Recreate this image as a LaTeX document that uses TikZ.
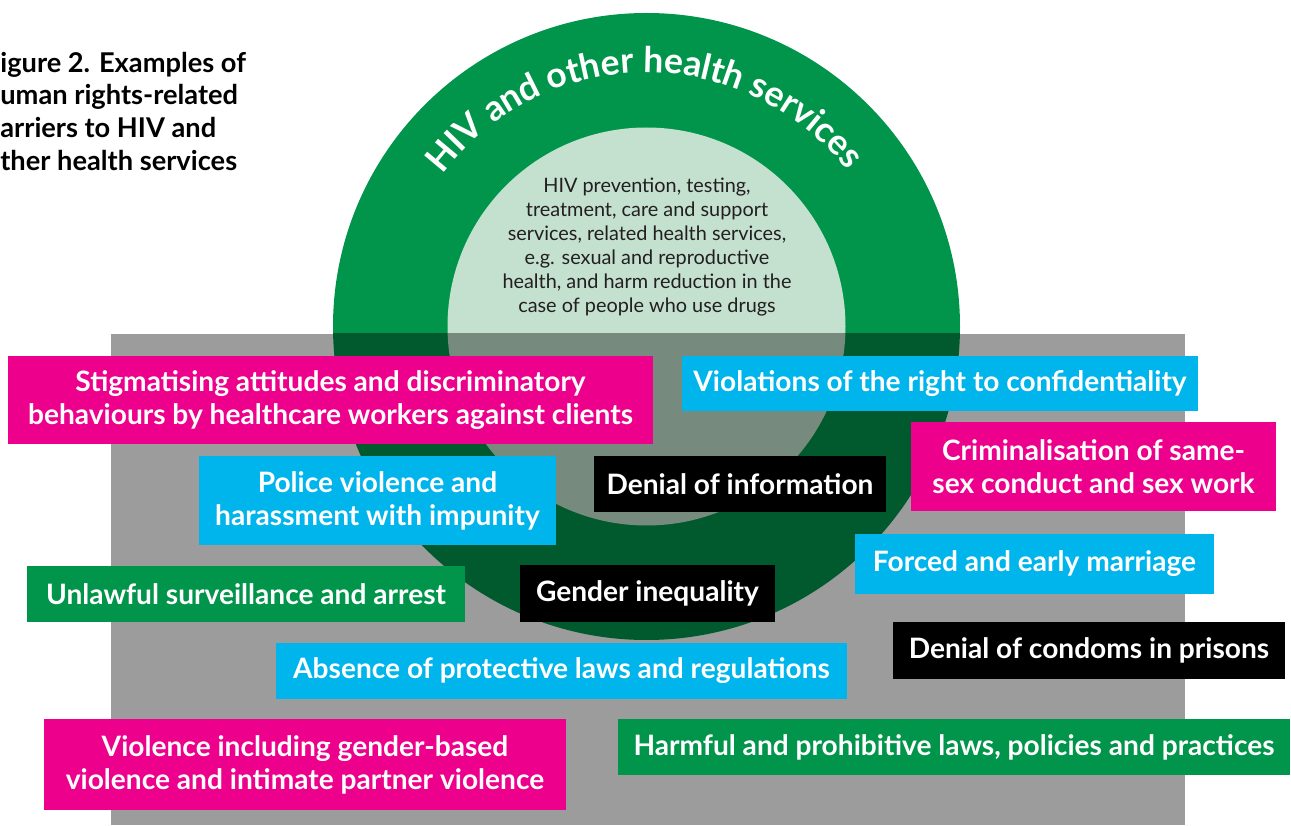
\documentclass[tikz,border=0pt]{standalone}
\usepackage{fontspec}
\setmainfont{Lato}
\usetikzlibrary{decorations.text}

\definecolor{ringgreen}{HTML}{00954A}
\definecolor{coregreen}{HTML}{C4E0CF}
\definecolor{fieldgray}{HTML}{9C9C9C}
\definecolor{ringshade}{HTML}{005A2D}
\definecolor{coreshade}{HTML}{778A7E}
\definecolor{barmagenta}{HTML}{EC008C}
\definecolor{barcyan}{HTML}{00B4EC}
\definecolor{bargreen}{HTML}{00954A}
\definecolor{inktext}{HTML}{231F20}

\newcommand{\arcfont}{\bfseries\fontsize{20.2}{22}\selectfont}

\begin{document}
\begin{tikzpicture}[
	barrier/.style={inner sep=0pt, align=center, text=white, font=\bfseries\fontsize{16}{18.7}\selectfont},
	magentabar/.style={barrier, fill=barmagenta},
	cyanbar/.style={barrier, fill=barcyan},
	greenbar/.style={barrier, fill=bargreen},
	blackbar/.style={barrier, fill=black}
]
	\useasboundingbox (0, 0) rectangle (25.82, 16.5);
	\coordinate (O) at (12.93, 9.97);

	\fill [ringgreen] (O) circle (6.27);
	\fill [coregreen] (O) circle (3.98);
	\path [decorate, decoration={text along path, text align=center, text color=white,
		text={|\arcfont|HIV and other health services}}]
		([shift={(162:5.08)}]O) arc [start angle=162, end angle=19, radius=5.08];
	\node [align=center, text=inktext, inner sep=0pt, font=\fontsize{11.3}{13.6}\selectfont] (core) at (12.94, 11.56)
		{HIV prevention, testing,\\treatment, care and support\\services, related health services,\\e.g. sexual and reproductive\\health, and harm reduction in the\\case of people who use drugs};

	\fill [fieldgray] (2.22, 0) rectangle (23.7, 9.82);
	\begin{scope}
		\clip (2.22, 0) rectangle (23.7, 9.82);
		\fill [ringshade] (O) circle (6.27);
		\fill [coreshade] (O) circle (3.98);
	\end{scope}

	\node [anchor=north west, align=left, inner sep=0pt, font=\bfseries\fontsize{15.5}{18.7}\selectfont] (caption) at (0, 15.47)
		{igure 2. Examples of\\uman rights-related\\arriers to HIV and\\ther health services};

	\node [magentabar, minimum width=12.9cm, minimum height=1.76cm] (stigma) at (6.61, 8.5)
		{Stigmatising attitudes and discriminatory\\behaviours by healthcare workers against clients};
	\node [cyanbar, minimum width=10.32cm, minimum height=1.1cm] (privacy) at (18.8, 8.83)
		{Violations of the right to confidentiality};
	\node [cyanbar, minimum width=7.14cm, minimum height=1.78cm] (police) at (7.55, 6.49)
		{Police violence and\\harassment with impunity};
	\node [blackbar, minimum width=5.84cm, minimum height=1.12cm] (information) at (14.8, 6.82)
		{Denial of information};
	\node [magentabar, minimum width=7.3cm, minimum height=1.78cm] (criminal) at (21.87, 7.17)
		{Criminalisation of same-\\sex conduct and sex work};
	\node [cyanbar, minimum width=7.18cm, minimum height=1.2cm] (marriage) at (20.69, 5.22)
		{Forced and early marriage};
	\node [greenbar, minimum width=8.76cm, minimum height=1.12cm] (surveillance) at (4.92, 4.62)
		{Unlawful surveillance and arrest};
	\node [blackbar, minimum width=5.1cm, minimum height=1.14cm] (gender) at (12.95, 4.63)
		{Gender inequality};
	\node [blackbar, minimum width=7.84cm, minimum height=1.14cm] (condoms) at (21.78, 3.49)
		{Denial of condoms in prisons};
	\node [cyanbar, minimum width=11.42cm, minimum height=1.12cm] (protection) at (11.23, 3.08)
		{Absence of protective laws and regulations};
	\node [magentabar, minimum width=10.44cm, minimum height=1.82cm] (violence) at (6.1, 1.21)
		{Violence including gender-based\\violence and intimate partner violence};
	\node [greenbar, minimum width=13.44cm, minimum height=1.12cm] (laws) at (19.08, 1.56)
		{Harmful and prohibitive laws, policies and practices};
\end{tikzpicture}
\end{document}
